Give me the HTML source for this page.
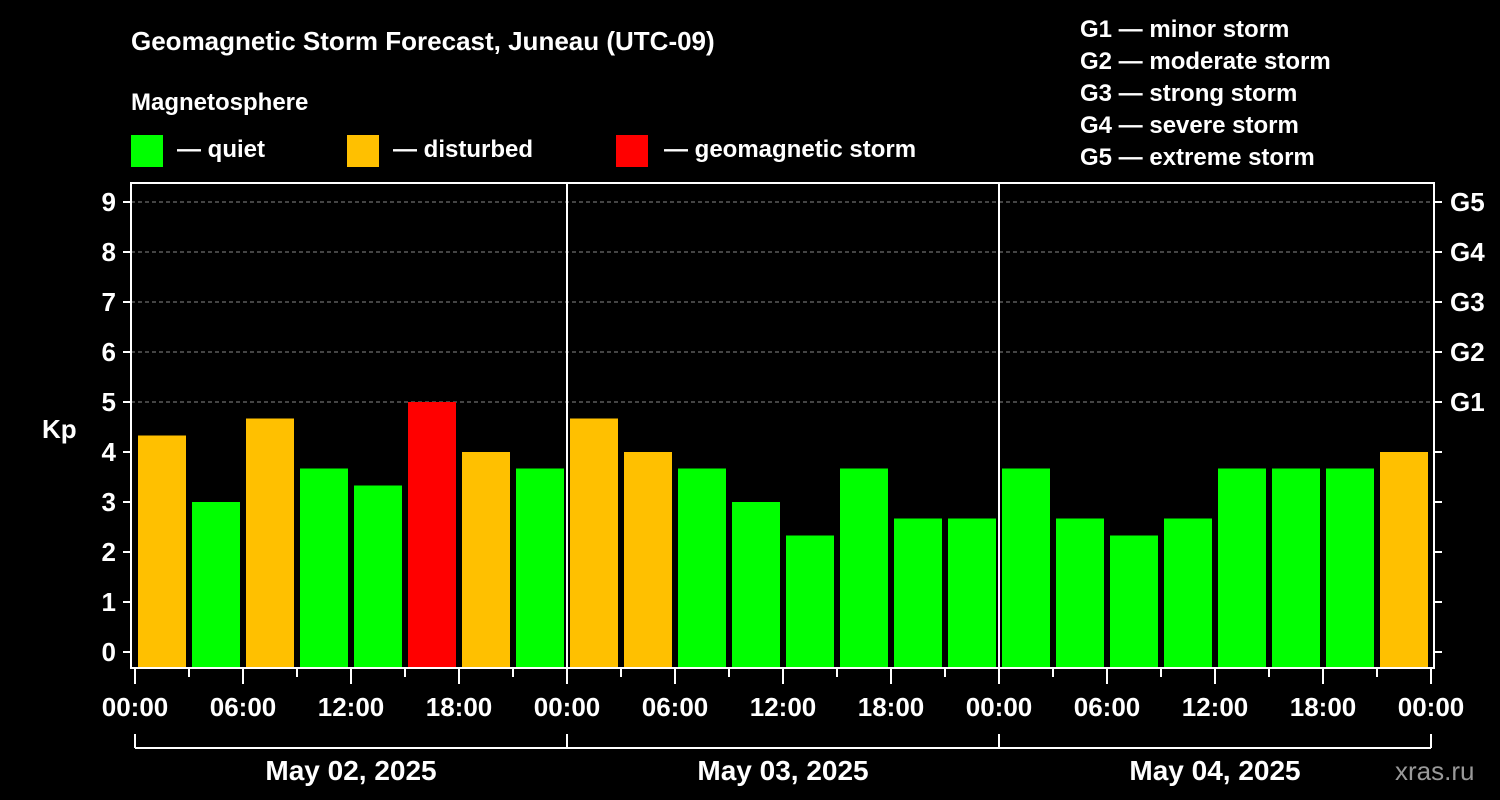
<!DOCTYPE html>
<html><head><meta charset="utf-8"><style>
html,body{margin:0;padding:0;background:#000;}
svg{display:block;font-family:"Liberation Sans",Arial,sans-serif;font-weight:bold;}
</style></head><body>
<svg id="chart" width="1500" height="800" viewBox="0 0 1500 800">
<rect width="1500" height="800" fill="#000"/>
<text x="131" y="50" fill="#fff" font-size="26">Geomagnetic Storm Forecast, Juneau (UTC-09)</text>
<text x="131" y="110" fill="#fff" font-size="24">Magnetosphere</text>
<g><rect x="131" y="135" width="32" height="32" fill="#00ff00"/><text x="177" y="157" fill="#fff" font-size="24">— quiet</text></g>
<g><rect x="347" y="135" width="32" height="32" fill="#ffc000"/><text x="393" y="157" fill="#fff" font-size="24">— disturbed</text></g>
<g><rect x="616" y="135" width="32" height="32" fill="#ff0000"/><text x="664" y="157" fill="#fff" font-size="24">— geomagnetic storm</text></g>
<g fill="#fff" font-size="24">
<text x="1080" y="37">G1 — minor storm</text>
<text x="1080" y="69">G2 — moderate storm</text>
<text x="1080" y="101">G3 — strong storm</text>
<text x="1080" y="133">G4 — severe storm</text>
<text x="1080" y="165">G5 — extreme storm</text>
</g>
<text x="42" y="438" fill="#fff" font-size="26">Kp</text>
<text x="1395" y="780" fill="#999" font-size="26" font-weight="normal">xras.ru</text>
<g id="grid"></g><g id="bars"></g><g id="axes"></g>
</svg>
<script>
const kpValues=[4.33,3,4.67,3.67,3.33,5,4,3.67, 4.67,4,3.67,3,2.33,3.67,2.67,2.67, 3.67,2.67,2.33,2.67,3.67,3.67,3.67,4];
const dayLabels=["May 02, 2025","May 03, 2025","May 04, 2025"];
const hourLabels=["00:00","06:00","12:00","18:00"];
const yTicks=[0,1,2,3,4,5,6,7,8,9];
const gLabels=["G1","G2","G3","G4","G5"];
const NS="http://www.w3.org/2000/svg";
const X0=135,SLOT=54,L=131,R=1434,T=183,B=668;
const y=v=>652-v*50;
const x=i=>X0+i*SLOT;
function mk(tag,attrs,parent,txt){const e=document.createElementNS(NS,tag);for(const k in attrs)e.setAttribute(k,attrs[k]);if(txt!==undefined)e.textContent=txt;document.getElementById(parent).appendChild(e);return e;}
const color=v=>v>=5?"#ff0000":(v>=4?"#ffc000":"#00ff00");
yTicks.forEach(v=>{if(v>=5){const g=mk('line',{x1:L,x2:R,y1:y(v),y2:y(v),stroke:'#888','stroke-dasharray':'4,3','stroke-width':1},'grid');

}});
kpValues.forEach((v,i)=>{const r=mk('rect',{x:x(i)+3,y:y(v),width:48,height:B-y(v),fill:color(v)},'bars');

});
mk('rect',{x:L,y:T,width:R-L,height:B-T,fill:'none',stroke:'#fff','stroke-width':2},'axes');
[1,2].forEach(d=>{const l=mk('line',{x1:x(d*8),x2:x(d*8),y1:T,y2:B,stroke:'#fff','stroke-width':2},'axes');

});
yTicks.forEach(v=>{mk('line',{x1:L-8,x2:L,y1:y(v),y2:y(v),stroke:'#fff','stroke-width':2},'axes');
mk('line',{x1:R,x2:R+8,y1:y(v),y2:y(v),stroke:'#fff','stroke-width':2},'axes');
const t=mk('text',{x:116,y:y(v)+9,fill:'#fff','font-size':26,'text-anchor':'end'},'axes',String(v));

});
gLabels.forEach((g,i)=>{const t=mk('text',{x:1450,y:y(5+i)+9,fill:'#fff','font-size':26},'axes',g);

});
for(let i=0;i<=24;i++){const major=i%2===0;mk('line',{x1:x(i),x2:x(i),y1:B,y2:major?B+16:B+9,stroke:'#fff','stroke-width':2},'axes');
if(major){const t=mk('text',{x:x(i),y:716,fill:'#fff','font-size':26,'text-anchor':'middle'},'axes',hourLabels[(i/2)%4]);

}}
mk('line',{x1:x(0),x2:x(24),y1:748,y2:748,stroke:'#fff','stroke-width':2},'axes');
for(let d=0;d<=3;d++)mk('line',{x1:x(d*8),x2:x(d*8),y1:734,y2:748,stroke:'#fff','stroke-width':2},'axes');
dayLabels.forEach((s,d)=>{const t=mk('text',{x:x(d*8+4),y:780,fill:'#fff','font-size':28,'text-anchor':'middle'},'axes',s);

});
</script>
</body></html>
